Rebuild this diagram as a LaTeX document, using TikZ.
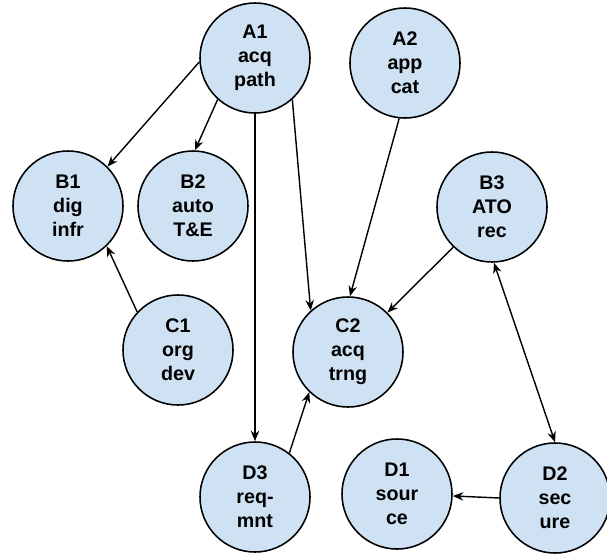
\documentclass[tikz,border=0pt]{standalone}
\usepackage{fontspec}
\setmainfont{Liberation Sans}
\usetikzlibrary{arrows.meta}
\definecolor{ballblue}{HTML}{CFE2F3}
\begin{document}
\begin{tikzpicture}[x=0.025cm,y=-0.025cm,
  ball/.style={circle,draw,line width=1.1pt,fill=ballblue,minimum size=2.75cm,inner sep=0pt,align=center,
    font=\fontsize{14}{17}\selectfont\bfseries},
  link/.style={line width=1pt,-{Stealth[length=7.5pt,width=6pt]}}]
          \useasboundingbox (0,0) rectangle (607,554);
          \node[ball] (A1) at (255,58) {A1\\acq\\path};
          \node[ball] (A2) at (405,63) {A2\\app\\cat};
          \node[ball] (B1) at (68,206) {B1\\dig\\infr};
          \node[ball] (B2) at (193,206) {B2\\auto\\T\&E};
          \node[ball] (B3) at (492,207) {B3\\ATO\\rec};
          \node[ball] (C1) at (178,350) {C1\\org\\dev};
          \node[ball] (C2) at (348,352) {C2\\acq\\trng};
          \node[ball] (D3) at (255,497) {D3\\req-\\mnt};
          \node[ball] (D1) at (397,494) {D1\\sour\\ce};
          \node[ball] (D2) at (555,498) {D2\\sec\\ure};
          \draw[link] (A1.-176) -- (B1.45);
          \draw[link] (A1.-132) -- (B2.88);
          \draw[link] (A1.-90) -- (D3.90);
          \draw[link] (A1.-48) -- (C2.132);
          \draw[link] (A2.-96) -- (C2.88);
          \draw[link] (B3.-134) -- (C2.45);
          \draw[link] (C1.137) -- (B1.-46);
          \draw[link] (D3.52) -- (C2.-134);
          \draw[link,{Stealth[length=7.5pt,width=6pt]}-{Stealth[length=7.5pt,width=6pt]}] (B3.-88) -- (D2.90);
          \draw[link] (D2.180) -- (D1.-2);
        \end{tikzpicture}
\end{document}
